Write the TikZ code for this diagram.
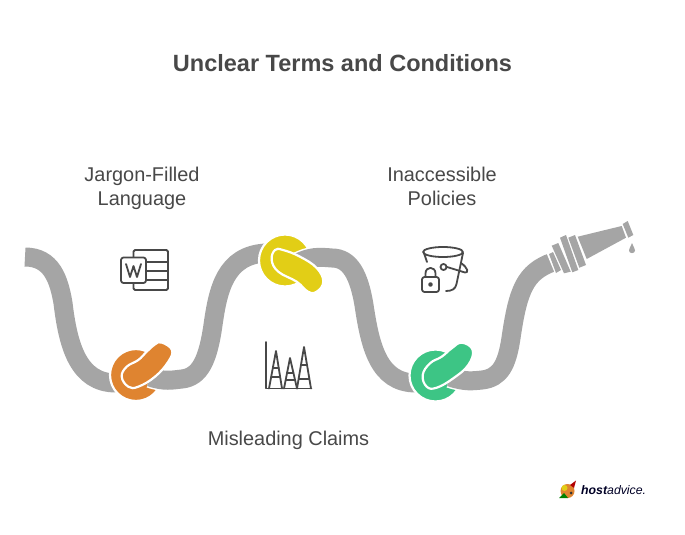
\documentclass[tikz,border=0pt]{standalone}
\usepackage{fontspec}
\setmainfont{Liberation Sans}
\definecolor{hose}{HTML}{A5A5A5}
\definecolor{ink}{HTML}{484848}
\definecolor{orangek}{HTML}{DF8430}
\definecolor{yellowk}{HTML}{E2CE16}
\definecolor{greenk}{HTML}{3DC585}
\tikzset{
  hoseline/.style={preaction={draw=white,line width=22pt},draw=hose,line width=19pt,line cap=butt},
  icon/.style={draw=ink,line width=1.8pt,line join=round,line cap=round},
  label/.style={text=ink,font=\fontsize{19.9}{24}\selectfont,align=center,inner sep=0pt},
  titletext/.style={text=ink,font=\fontsize{23.5}{29}\selectfont\bfseries,inner sep=0pt},
  knot/.style={draw=white,line width=2.2pt},
}
\begin{document}
\begin{tikzpicture}[x=1pt,y=-1pt]
\useasboundingbox (0,0) rectangle (685,535);
\fill[white] (0,0) rectangle (685,535);
\node[titletext] (title) at (342.5,63) {Unclear Terms and Conditions};
\node[label] (l1) at (142,188) {Jargon-Filled\\Language};
\node[label] (l2) at (442,186) {Inaccessible\\Policies};
\node[label] (l3) at (288.5,440) {Misleading Claims};
% hose and knot discs, each leaving segment over the previous disc
\draw[hoseline] (25,257) .. controls (52,257) and (59,280) .. (63,303) .. controls (68,345) and (78,383) .. (116,383);
\draw[knot,fill=orangek] (136,375) circle (26);
\draw[hoseline] (150,377) .. controls (165,382) and (172,380) .. (182,379) .. controls (200,377) and (208,360) .. (213,325) .. controls (218,290) and (225,255) .. (266,253);
\draw[knot,fill=yellowk] (285,260.5) circle (26);
\draw[hoseline] (296,264) .. controls (310,256) and (320,257) .. (332,258) .. controls (350,258) and (359,275) .. (364,305) .. controls (370,345) and (378,383) .. (416,383);
\draw[knot,fill=greenk] (435.5,375.5) circle (26);
\draw[hoseline] (450,377) .. controls (465,382) and (472,381) .. (482,380) .. controls (500,378) and (507,365) .. (511,338) .. controls (518,290) and (525,272) .. (553,262);
% beans
\draw[knot,fill=orangek] plot[smooth cycle,tension=0.7] coordinates {(155,344.3) (161.7,342.5) (172,350) (168.3,361.7) (155,376.7) (138.3,386.7) (128.3,386.7) (121.7,376.7) (126.7,366.7) (138.3,360) (146.7,351.7)};
\draw[knot,fill=yellowk] plot[smooth cycle,tension=0.7] coordinates {(275,250) (283,250) (300,256.7) (316.7,268) (323.3,281.7) (316.7,291.7) (308,291.7) (296.7,281.7) (278.3,271.7) (271.7,260)};
\draw[knot,fill=greenk] plot[smooth cycle,tension=0.7] coordinates {(451.7,348.3) (461.7,342.7) (472.7,350) (468.3,365) (453.3,378.3) (436.7,387.7) (426.7,386.7) (422.7,375) (430,363.3) (441.7,356.7)};
% nozzle
\fill[white] (546,252) -- (552,249) -- (562,270) -- (556,276) -- cycle;
\fill[hose] (549,254) -- (553,252) -- (561,270) -- (556,273) -- cycle;
\fill[hose] (551.7,245.7) -- (558.3,243) -- (570.7,271.7) -- (564,273.3) -- cycle;
\fill[hose] (560,237.7) -- (566,235) -- (578.3,270) -- (572.3,272.3) -- cycle;
\fill[hose] (568.3,237.7) -- (575,235) -- (586,265) -- (579.3,267.7) -- cycle;
\fill[hose] (577.7,236.7) -- (621.7,226) -- (626,237.7) -- (586.7,259) -- cycle;
\fill[hose] (622.7,224) -- (627.7,221) -- (633.3,235) -- (628.3,237.7) -- cycle;
\fill[hose] (632,243) .. controls (633.5,247) and (635,248.5) .. (635,250.5) .. controls (635,254) and (629,254) .. (629,250.5) .. controls (629,248.5) and (630.5,247) .. (632,243) -- cycle;
% word icon
\draw[icon,rounded corners=1.5pt] (133.5,257) -- (133.5,250) -- (168,250) -- (168,290) -- (133.5,290) -- (133.5,283);
\draw[icon] (146,262) -- (168,262) (146,271) -- (168,271) (146,280) -- (168,280);
\draw[icon,rounded corners=2.5pt] (121,257.5) rectangle (146,283);
\draw[icon] (126,264) -- (130,277) -- (133.5,266) -- (137,277) -- (141,264);
% bars icon
\draw[icon] (265.7,342) -- (265.7,388.5) -- (311.5,388.5);
\foreach \ax/\ay/\bl/\br/\ra/\rb in {276/351/269/282/368/377,290/358/284/297/373/380,304/347/297/311/365/379}{
  \draw[icon] (\bl,388.5) -- (\ax,\ay) -- (\br,388.5);
  \pgfmathsetmacro{\fa}{(\ra-\ay)/(388.5-\ay)}
  \pgfmathsetmacro{\fb}{(\rb-\ay)/(388.5-\ay)}
  \draw[icon,line width=1.5pt] ({\ax+(\bl-\ax)*\fa},\ra) -- ({\ax+(\br-\ax)*\fa},\ra);
  \draw[icon,line width=1.5pt] ({\ax+(\bl-\ax)*\fb},\rb) -- ({\ax+(\br-\ax)*\fb},\rb);
}
% bucket icon
\draw[icon] (443,252) ellipse (20 and 5);
\draw[icon] (424,253) -- (427,262);
\draw[icon] (463,253) -- (456.5,284) .. controls (455.5,289) and (452,291) .. (446,291);
\draw[icon] (447,267) -- (465,272.5) .. controls (469,273) and (468,268) .. (461,263);
\draw[icon] (443.5,267) circle (3);
\draw[icon,rounded corners=2.5pt] (422,277) rectangle (439,292);
\draw[icon] (425.5,277) -- (425.5,273.5) .. controls (425.5,266) and (435.5,266) .. (435.5,273.5) -- (435.5,277);
\draw[icon] (430.5,284.5) circle (1.5);
% logo
\node[inner sep=0pt,anchor=west,font=\fontsize{12.3}{14}\selectfont\itshape,text=black!85!blue] (logo) at (581,490) {\textbf{host}advice.};
\fill[orangek] (567.5,491) circle (7);
\fill[yellowk] (564.5,488) circle (3);
\fill[red!70!black] (570,485) -- (576,480.5) -- (574,488) -- cycle;
\fill[green!50!black] (559,498) -- (564,493) -- (568,498) -- cycle;
\fill[black!80] (571,493) circle (1.5);
\end{tikzpicture}
\end{document}
